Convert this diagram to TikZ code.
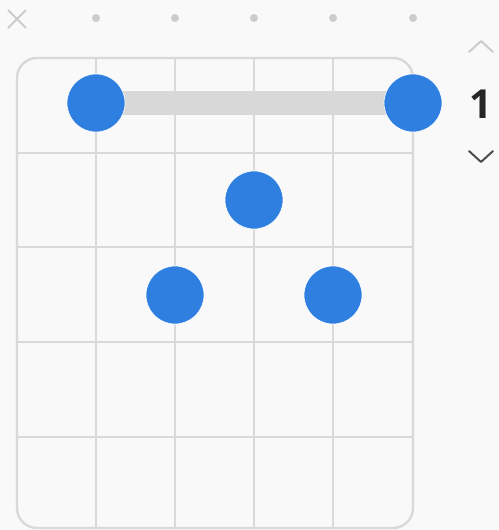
\documentclass[tikz,border=0pt]{standalone}
\usepackage{fontspec}
\setmainfont{Open Sans}
\usetikzlibrary{calc}
\definecolor{bg}{HTML}{F9F9F9}
\definecolor{gridc}{HTML}{D9D9D9}
\definecolor{fingerc}{HTML}{2F7FE0}
\definecolor{barrec}{HTML}{D8D8D8}
\definecolor{mutedc}{HTML}{CCCCCC}
\begin{document}
\begin{tikzpicture}[x=1pt,y=-1pt,
  finger/.style={circle,fill=fingerc,draw=white,line width=0.6pt,minimum size=58pt,inner sep=0pt},
  opendot/.style={circle,fill=mutedc,minimum size=8pt,inner sep=0pt},
  gridline/.style={draw=gridc,line width=2.4pt},
  chev/.style={line width=2pt,line cap=round,line join=round}]
\fill[bg] (0,0) rectangle (498,530);
\useasboundingbox (0,0) rectangle (498,530);
% grid frame
\draw[gridline,rounded corners=20pt] (17,300) -- (17,58) -- (413,58) -- (413,300);
\draw[gridline,rounded corners=20pt] (17,300) -- (17,528) -- (413,528) -- (413,300);
\foreach \x in {96,175,254,333} \draw[gridline] (\x,58) -- (\x,528);
\foreach \y in {153,247,342,437} \draw[gridline] (17,\y) -- (413,\y);
% string markers
\coordinate (xm) at (17,19);
\draw[mutedc,line width=2pt] ($(xm)+(-9,-9)$) -- ($(xm)+(9,9)$) ($(xm)+(-9,9)$) -- ($(xm)+(9,-9)$);
\foreach \x [count=\i] in {96,175,254,333,413} \node[opendot] (o\i) at (\x,18) {};
% barre
\coordinate (b1) at (96,103);
\coordinate (b2) at (413,103);
\fill[barrec] ($(b1)+(0,-12)$) rectangle ($(b2)+(0,12)$);
\node[finger] (f1) at (b1) {};
\node[finger] (f5) at (b2) {};
\node[finger] (f3) at (254,200) {};
\node[finger] (f2) at (175,295) {};
\node[finger] (f4) at (333,295) {};
% fret number
\node[font=\fontsize{40}{40}\selectfont\bfseries,text=black!85,anchor=center] (fret) at (481,104) {1};
\draw[chev,draw=mutedc] (469,52) -- (481,41) -- (493,52);
\draw[chev,draw=black!70] (469,151) -- (481,162) -- (493,151);
\end{tikzpicture}
\end{document}
